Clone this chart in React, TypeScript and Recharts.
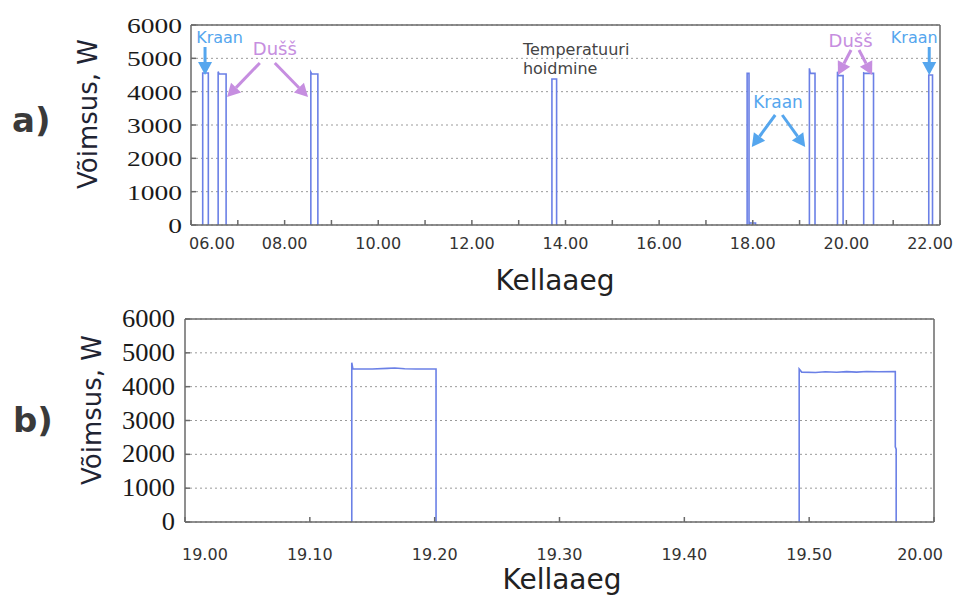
import { CartesianGrid, Line, LineChart, ReferenceDot, ReferenceLine, XAxis, YAxis } from "recharts";

const LINE_BLUE = "#6b80e6";
const FRAME = "#6a6a6a";
const GRID = "#9a9a9a";
const KRAAN = "#55a6ee";
const DUSS = "#c68ee0";

// a) whole day, hours
const dayStart = [6.25, 6.58, 8.56, 13.71, 17.88, 17.93, 19.21, 19.81, 20.37, 21.76];
const dayPeakEnd = [6.26, 6.6, 8.58, 13.72, 17.89, 17.94, 19.23, 19.83, 20.39, 21.77];
const dayEnd = [6.37, 6.75, 8.71, 13.81, 17.92, 18.06, 19.33, 19.93, 20.58, 21.84];
const dayPeak = [4560, 4600, 4580, 4380, 4550, 80, 4700, 4600, 4560, 4500];
const dayLevel = [4560, 4530, 4530, 4380, 4550, 60, 4550, 4480, 4550, 4500];
const dayTicks = [6, 7, 8, 9, 10, 11, 12, 13, 14, 15, 16, 17, 18, 19, 20, 21, 22];

// b) 19.00-20.00, minutes after 19.00
const zoomMin = [13.36, 13.36, 13.45, 15.0, 16.2, 16.8, 17.6, 18.5, 20.11, 20.11, 35, 49.2, 49.2, 49.4, 50.5, 51.3, 52.2, 53.0, 53.8, 54.6, 55.5, 56.9, 56.9, 56.97, 56.97];
const zoomWatt = [0, 4710, 4520, 4520, 4540, 4550, 4530, 4520, 4520, 0, null, 0, 4520, 4430, 4420, 4440, 4425, 4445, 4430, 4450, 4440, 4450, 2220, 2150, 0];
const zoomTicks = [0, 10, 20, 30, 40, 50, 60];

const powerTicks = [0, 1000, 2000, 3000, 4000, 5000, 6000];

// annotations in a)
const noteText = ["Kraan", "Dušš", "Temperatuuri", "hoidmine", "Kraan", "Dušš", "Kraan"];
const noteHour = [6.61, 7.79, 13.09, 13.09, 18.54, 20.09, 21.45];
const noteWatt = [5460, 5100, 5100, 4530, 3510, 5340, 5460];
const noteColor = [KRAAN, DUSS, "#444", "#444", KRAAN, DUSS, KRAAN];
const noteSize = [16, 18, 16, 16, 17, 18, 16];
const noteAnchor = ["middle", "middle", "start", "start", "middle", "middle", "middle"];

const arrowFromH = [6.3, 7.47, 7.79, 18.48, 18.63, 20.1, 20.27, 21.77];
const arrowFromW = [5340, 4860, 4860, 3300, 3300, 5250, 5250, 5340];
const arrowToH = [6.3, 6.77, 8.5, 17.98, 19.12, 19.82, 20.55, 21.77];
const arrowToW = [4500, 3840, 3840, 2340, 2340, 4500, 4500, 4500];
const arrowColor = [KRAAN, DUSS, DUSS, KRAAN, KRAAN, DUSS, DUSS, KRAAN];

const dayData: { t: number; w: number | null }[] = [];
dayStart.forEach((s, i) => {
  dayData.push({ t: s, w: 0 });
  dayData.push({ t: s, w: dayPeak[i] });
  dayData.push({ t: dayPeakEnd[i], w: dayLevel[i] });
  dayData.push({ t: dayEnd[i], w: dayLevel[i] });
  dayData.push({ t: dayEnd[i], w: 0 });
  dayData.push({ t: dayEnd[i], w: null });
});

const zoomData = zoomMin.map((m, i) => ({ t: m, w: zoomWatt[i] }));

function PowerTick(props: any) {
  const { x, y, payload, size, stretch } = props;
  return (
    <text
      transform={`translate(${x},${y + 8}) scale(${stretch},1)`}
      textAnchor="end"
      style={{ fontFamily: "'Liberation Serif', 'Times New Roman', serif", fontSize: size }}
      fill="#1a1a1a"
    >
      {payload.value}
    </text>
  );
}

function HourTick(props: any) {
  const { x, y, payload } = props;
  const h = payload.value;
  if (h % 2 !== 0) return <g />;
  let anchor = "middle";
  let dx = 0;
  if (h === 6) { anchor = "start"; dx = -2; }
  if (h === 22) { anchor = "end"; dx = 13; }
  const label = (h < 10 ? "0" : "") + h + ".00";
  return (
    <text x={x + dx} y={y} textAnchor={anchor} fontFamily="DejaVu Sans" fontSize={16} fill="#333">
      {label}
    </text>
  );
}

function MinuteTick(props: any) {
  const { x, y, payload } = props;
  const m = payload.value;
  let anchor = "middle";
  let dx = 0;
  if (m === 0) { anchor = "start"; dx = -3; }
  if (m === 60) { anchor = "end"; dx = 9; }
  const label = m === 60 ? "20.00" : "19." + (m < 10 ? "0" : "") + m;
  return (
    <text x={x + dx} y={y} textAnchor={anchor} fontFamily="DejaVu Sans" fontSize={16} fill="#333">
      {label}
    </text>
  );
}

function Arrow(props: any) {
  const { x1, y1, x2, y2, stroke } = props;
  const dx = x2 - x1;
  const dy = y2 - y1;
  const len = Math.sqrt(dx * dx + dy * dy) || 1;
  const ux = dx / len;
  const uy = dy / len;
  const head = 13;
  const half = 7;
  const bx = x2 - ux * head;
  const by = y2 - uy * head;
  const pts = `${x2},${y2} ${bx - uy * half},${by + ux * half} ${bx + uy * half},${by - ux * half}`;
  return (
    <g>
      <line x1={x1} y1={y1} x2={bx} y2={by} stroke={stroke} strokeWidth={3} />
      <polygon points={pts} fill={stroke} />
    </g>
  );
}

export default function App() {
  return (
    <div style={{ position: "absolute", left: 0, top: 0, width: 955, height: 597, background: "#fff", overflow: "hidden" }}>
      <div style={{ position: "absolute", left: 0, top: 0 }}>
        <LineChart width={955} height={260} data={dayData} margin={{ top: 24, right: 14, bottom: 0, left: 0 }}>
          <CartesianGrid vertical={false} stroke={GRID} strokeDasharray="2 3" />
          <XAxis dataKey="t" type="number" domain={[6, 22]} ticks={dayTicks} interval={0} allowDataOverflow
            tickSize={-5} tickMargin={29} height={35} tick={<HourTick />} stroke={FRAME} strokeWidth={1.5} />
          <XAxis xAxisId="top" orientation="top" type="number" domain={[6, 22]} ticks={dayTicks} interval={0} allowDataOverflow
            tickSize={-5} height={1} tick={false} stroke={FRAME} strokeWidth={1.5} />
          <YAxis type="number" domain={[0, 6000]} ticks={powerTicks} interval={0} allowDataOverflow
            tickSize={-5} tickMargin={14} width={191} tick={<PowerTick size={22} stretch={1.25} />} stroke={FRAME} strokeWidth={1.5} />
          <YAxis yAxisId="right" orientation="right" type="number" domain={[0, 6000]} ticks={powerTicks} interval={0} allowDataOverflow
            tickSize={-5} width={1} tick={false} stroke={FRAME} strokeWidth={1.5} />
          <Line dataKey="w" type="linear" stroke={LINE_BLUE} strokeWidth={1.6} dot={false} isAnimationActive={false} connectNulls={false} />
          {arrowFromH.map((h, i) => (
            <ReferenceLine key={"a" + i} ifOverflow="visible" stroke={arrowColor[i]}
              segment={[{ x: h, y: arrowFromW[i] }, { x: arrowToH[i], y: arrowToW[i] }]} shape={Arrow} />
          ))}
          {noteText.map((txt, i) => (
            <ReferenceDot key={"n" + i} x={noteHour[i]} y={noteWatt[i]} r={0} ifOverflow="visible"
              shape={(p: any) => (
                <text x={p.cx} y={p.cy} textAnchor={noteAnchor[i]} fontFamily="DejaVu Sans" fontSize={noteSize[i]} fill={noteColor[i]}>
                  {txt}
                </text>
              )} />
          ))}
        </LineChart>
      </div>
      <div style={{ position: "absolute", left: 0, top: 284 }}>
        <LineChart width={955} height={313} data={zoomData} margin={{ top: 34, right: 20, bottom: 0, left: 0 }}>
          <CartesianGrid vertical={false} stroke={GRID} strokeDasharray="2 3" />
          <XAxis dataKey="t" type="number" domain={[0, 60]} ticks={zoomTicks} interval={0} allowDataOverflow
            tickSize={-5} tickMargin={43} height={75} tick={<MinuteTick />} stroke={FRAME} strokeWidth={1.5} />
          <XAxis xAxisId="top" orientation="top" type="number" domain={[0, 60]} ticks={zoomTicks} interval={0} allowDataOverflow
            tickSize={-5} height={1} tick={false} stroke={FRAME} strokeWidth={1.5} />
          <YAxis type="number" domain={[0, 6000]} ticks={powerTicks} interval={0} allowDataOverflow
            tickSize={-5} tickMargin={15} width={185} tick={<PowerTick size={25} stretch={1.06} />} stroke={FRAME} strokeWidth={1.5} />
          <YAxis yAxisId="right" orientation="right" type="number" domain={[0, 6000]} ticks={powerTicks} interval={0} allowDataOverflow
            tickSize={-5} width={1} tick={false} stroke={FRAME} strokeWidth={1.5} />
          <Line dataKey="w" type="linear" stroke={LINE_BLUE} strokeWidth={1.6} dot={false} isAnimationActive={false} connectNulls={false} />
        </LineChart>
      </div>
      <svg width={955} height={597} style={{ position: "absolute", left: 0, top: 0, pointerEvents: "none" }}>
        <text x={12} y={132} fontFamily="DejaVu Sans" fontWeight="bold" fontSize={34} fill="#3a3a3a">a)</text>
        <text x={13} y={432} fontFamily="DejaVu Sans" fontWeight="bold" fontSize={34} fill="#3a3a3a">b)</text>
        <text transform="translate(97,114) rotate(-90)" textAnchor="middle" fontFamily="DejaVu Sans" fontSize={26} fill="#1f2433">Võimsus, W</text>
        <text transform="translate(101,410) rotate(-90)" textAnchor="middle" fontFamily="DejaVu Sans" fontSize={26} fill="#1f2433">Võimsus, W</text>
        <text x={555} y={290} textAnchor="middle" fontFamily="DejaVu Sans" fontSize={28} fill="#222">Kellaaeg</text>
        <text x={562} y={589} textAnchor="middle" fontFamily="DejaVu Sans" fontSize={28} fill="#222">Kellaaeg</text>
      </svg>
    </div>
  );
}
